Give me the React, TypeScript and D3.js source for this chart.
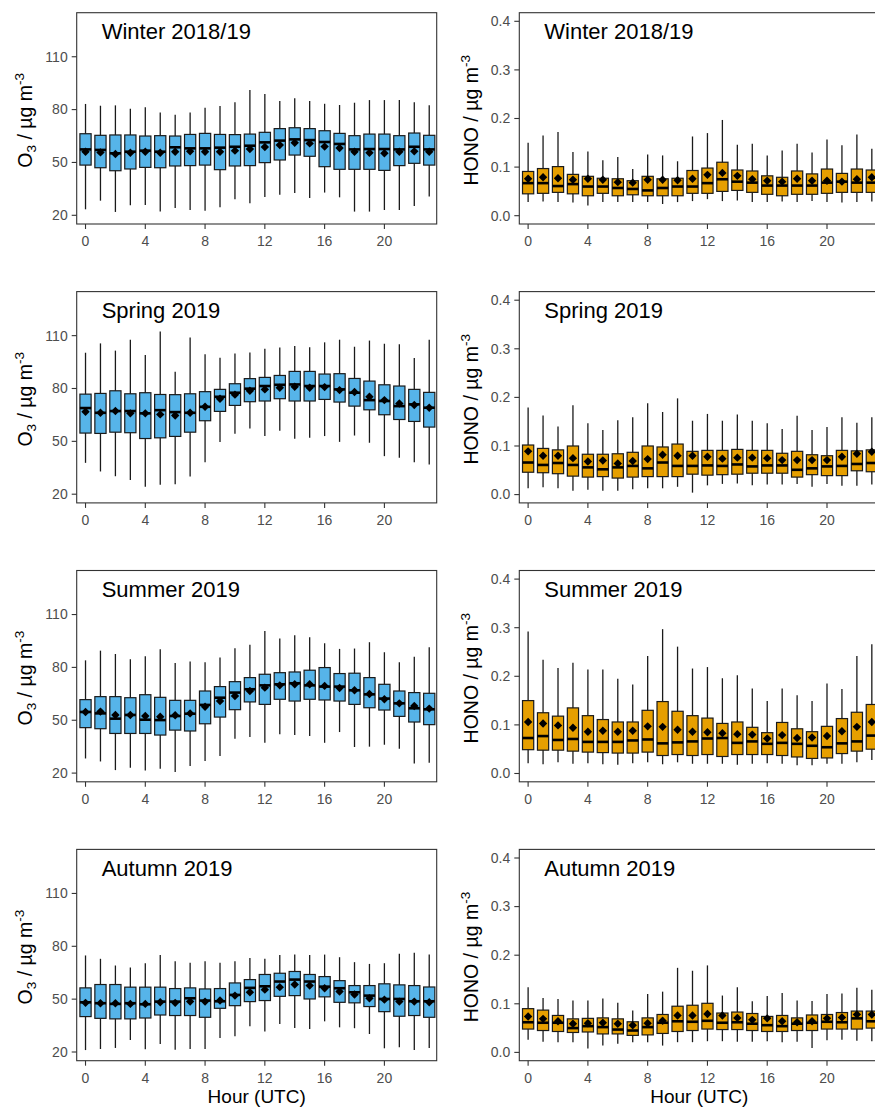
import React from "react";
import * as d3 from "d3";

const HOURS = [0, 1, 2, 3, 4, 5, 6, 7, 8, 9, 10, 11, 12, 13, 14, 15, 16, 17, 18, 19, 20, 21, 22, 23];
const SEASONS = ["Winter 2018/19", "Spring 2019", "Summer 2019", "Autumn 2019"];
const X_TICKS = [0, 4, 8, 12, 16, 20];
const O3_TICKS = [20, 50, 80, 110];
const HONO_TICKS = [0, 0.1, 0.2, 0.3, 0.4];

// ---- O3, Winter 2018/19 ----
const o3WinHi = [83.2, 82.2, 82.4, 80.5, 81.3, 78.4, 77.1, 78.4, 81.1, 82.0, 84.1, 91.1, 88.8, 84.9, 86.4, 84.9, 83.3, 82.6, 83.9, 85.4, 85.4, 85.4, 84.1, 82.4];
const o3WinQ3 = [66.3, 65.4, 65.6, 65.6, 65.0, 65.2, 65.0, 65.9, 66.5, 65.9, 65.8, 66.1, 67.1, 69.2, 69.7, 69.2, 68.0, 66.5, 65.2, 66.1, 66.1, 65.2, 66.7, 65.4];
const o3WinMed = [57.4, 57.1, 55.2, 56.1, 56.7, 56.1, 58.6, 58.0, 58.0, 58.4, 58.9, 59.5, 61.4, 62.4, 63.1, 62.7, 61.6, 60.5, 57.4, 57.6, 57.6, 57.4, 58.9, 57.4];
const o3WinQ1 = [48.5, 47.0, 45.3, 46.3, 47.2, 47.0, 48.0, 48.2, 48.5, 45.9, 48.0, 48.2, 49.9, 51.4, 54.2, 53.5, 47.6, 46.1, 46.1, 46.1, 45.5, 48.2, 49.5, 48.5];
const o3WinLo = [23.4, 28.3, 21.9, 25.7, 25.9, 22.1, 24.2, 23.0, 22.6, 24.5, 29.1, 26.8, 30.4, 31.7, 32.7, 29.8, 32.9, 30.2, 22.1, 22.1, 23.0, 23.0, 25.3, 30.6];
const o3WinMean = [56.1, 55.7, 54.8, 55.5, 56.1, 55.5, 56.1, 56.3, 56.1, 56.1, 56.7, 57.6, 58.8, 59.9, 61.2, 60.8, 59.0, 58.2, 56.1, 55.5, 55.2, 56.1, 56.3, 56.1];

// ---- O3, Spring 2019 ----
const o3SprHi = [100.3, 105.6, 101.5, 107.7, 99.0, 112.3, 89.5, 108.9, 99.4, 97.5, 99.8, 100.5, 102.6, 103.2, 104.1, 103.4, 106.2, 107.7, 103.7, 107.2, 105.4, 105.1, 97.3, 107.7];
const o3SprQ3 = [76.8, 77.2, 78.7, 77.0, 77.6, 76.6, 76.5, 77.0, 78.2, 79.5, 82.7, 85.6, 86.3, 87.4, 89.7, 89.7, 88.2, 88.4, 85.7, 84.2, 82.1, 81.4, 79.5, 77.8];
const o3SprMed = [68.9, 66.2, 67.2, 67.2, 65.9, 67.7, 66.6, 66.2, 69.6, 75.3, 77.6, 79.9, 81.4, 82.1, 82.3, 81.4, 81.4, 79.5, 77.6, 73.4, 72.9, 70.0, 71.0, 69.1];
const o3SprQ1 = [54.7, 54.5, 55.2, 54.9, 51.6, 52.0, 52.8, 55.2, 61.7, 67.0, 70.4, 72.5, 72.9, 74.2, 72.9, 72.9, 73.8, 72.3, 70.0, 67.9, 65.1, 62.4, 61.3, 58.1];
const o3SprLo = [37.8, 32.9, 30.2, 28.0, 24.2, 25.3, 25.7, 30.0, 38.2, 49.6, 54.3, 57.3, 53.0, 56.0, 51.5, 52.0, 53.0, 49.7, 53.3, 49.2, 41.6, 40.7, 38.2, 36.9];
const o3SprMean = [66.8, 66.2, 67.2, 65.9, 65.9, 65.3, 64.7, 66.2, 69.6, 74.2, 76.5, 78.7, 79.5, 80.4, 81.0, 80.4, 80.8, 79.1, 78.0, 75.3, 73.4, 71.5, 70.6, 69.1];

// ---- O3, Summer 2019 ----
const o3SumHi = [84.0, 89.5, 87.6, 84.6, 86.3, 90.3, 82.5, 83.3, 82.9, 85.6, 90.9, 92.9, 100.7, 96.4, 98.3, 97.1, 93.7, 90.5, 90.7, 94.3, 88.6, 82.9, 86.1, 91.4];
const o3SumQ3 = [61.7, 63.4, 63.4, 62.8, 64.5, 63.0, 61.3, 61.3, 66.6, 69.1, 71.9, 74.2, 76.1, 77.0, 77.4, 78.4, 79.9, 76.5, 76.7, 74.2, 70.4, 66.6, 65.7, 65.3];
const o3SumMed = [54.7, 53.9, 50.9, 53.0, 50.3, 50.1, 52.4, 53.7, 58.7, 62.8, 65.7, 67.6, 69.8, 70.4, 71.0, 69.8, 69.1, 69.1, 67.0, 64.7, 62.3, 59.6, 56.8, 56.2];
const o3SumQ1 = [45.8, 45.2, 42.5, 42.5, 42.5, 41.6, 44.4, 43.9, 48.0, 51.8, 56.0, 60.4, 59.0, 61.9, 60.9, 61.9, 61.5, 60.9, 59.0, 57.1, 55.8, 52.2, 49.0, 47.5];
const o3SumLo = [28.3, 26.6, 21.7, 23.0, 21.5, 22.5, 20.6, 24.0, 26.8, 29.7, 39.5, 40.5, 37.2, 42.0, 41.6, 41.0, 37.2, 43.3, 34.8, 35.0, 36.1, 33.8, 25.5, 25.9];
const o3SumMean = [54.7, 54.9, 53.0, 53.0, 52.4, 52.0, 52.8, 53.9, 57.7, 60.9, 63.8, 66.6, 68.5, 69.8, 70.4, 70.4, 69.5, 68.3, 67.0, 64.9, 61.9, 59.6, 58.1, 56.6];

// ---- O3, Autumn 2019 ----
const o3AutHi = [74.8, 72.9, 69.1, 67.9, 70.4, 75.1, 71.5, 70.6, 71.5, 70.6, 71.5, 73.4, 72.9, 75.1, 75.3, 75.1, 75.3, 73.8, 71.0, 70.0, 70.4, 75.7, 76.3, 75.3];
const o3AutQ3 = [56.4, 58.3, 58.3, 56.8, 56.8, 56.8, 56.0, 56.4, 55.8, 56.0, 59.2, 61.1, 64.0, 64.7, 65.7, 64.0, 62.8, 60.5, 57.7, 57.7, 58.7, 58.1, 57.7, 56.9];
const o3AutMed = [48.2, 47.7, 47.3, 47.7, 47.1, 48.6, 48.6, 50.5, 49.2, 48.8, 52.4, 56.4, 57.3, 60.0, 61.1, 60.0, 57.1, 56.2, 53.9, 52.0, 50.1, 50.1, 48.8, 48.8];
const o3AutQ1 = [40.1, 39.1, 38.8, 38.8, 39.3, 41.0, 40.7, 40.7, 39.7, 44.8, 46.3, 48.6, 49.2, 51.6, 52.0, 50.1, 51.3, 48.2, 47.9, 45.8, 42.9, 40.3, 40.7, 39.7];
const o3AutLo = [21.1, 21.7, 22.3, 26.8, 21.5, 24.5, 21.3, 21.7, 21.7, 28.0, 28.9, 34.6, 31.7, 35.9, 33.6, 33.1, 37.4, 34.0, 33.5, 30.2, 22.1, 22.7, 21.1, 22.3];
const o3AutMean = [47.9, 47.7, 47.7, 47.3, 47.3, 48.2, 47.9, 48.6, 48.6, 49.2, 52.0, 53.9, 55.4, 56.8, 58.3, 57.7, 56.2, 54.3, 52.6, 50.5, 49.7, 48.6, 48.6, 48.2];

// ---- HONO, Winter 2018/19 ----
const hoWinHi = [0.150, 0.165, 0.172, 0.131, 0.132, 0.114, 0.121, 0.096, 0.126, 0.124, 0.112, 0.163, 0.170, 0.197, 0.146, 0.148, 0.124, 0.134, 0.148, 0.130, 0.157, 0.145, 0.167, 0.138];
const hoWinQ3 = [0.091, 0.097, 0.101, 0.085, 0.081, 0.077, 0.076, 0.072, 0.081, 0.076, 0.077, 0.093, 0.098, 0.110, 0.094, 0.092, 0.082, 0.079, 0.092, 0.086, 0.096, 0.087, 0.096, 0.094];
const hoWinMed = [0.067, 0.067, 0.061, 0.065, 0.060, 0.060, 0.057, 0.055, 0.052, 0.057, 0.060, 0.060, 0.067, 0.075, 0.070, 0.068, 0.062, 0.062, 0.062, 0.062, 0.068, 0.070, 0.068, 0.068];
const hoWinQ1 = [0.045, 0.046, 0.048, 0.045, 0.041, 0.046, 0.041, 0.043, 0.041, 0.041, 0.041, 0.046, 0.046, 0.050, 0.052, 0.048, 0.044, 0.041, 0.044, 0.044, 0.046, 0.048, 0.048, 0.048];
const hoWinLo = [0.028, 0.029, 0.028, 0.027, 0.021, 0.028, 0.028, 0.028, 0.028, 0.024, 0.028, 0.030, 0.034, 0.030, 0.031, 0.028, 0.028, 0.029, 0.028, 0.030, 0.028, 0.027, 0.028, 0.029];
const hoWinMean = [0.076, 0.079, 0.077, 0.074, 0.076, 0.074, 0.069, 0.068, 0.074, 0.074, 0.073, 0.076, 0.084, 0.088, 0.082, 0.075, 0.072, 0.070, 0.076, 0.072, 0.072, 0.070, 0.075, 0.079];

// ---- HONO, Spring 2019 ----
const hoSprHi = [0.179, 0.163, 0.140, 0.184, 0.147, 0.133, 0.153, 0.159, 0.188, 0.170, 0.198, 0.152, 0.166, 0.152, 0.165, 0.152, 0.147, 0.135, 0.162, 0.133, 0.139, 0.159, 0.148, 0.159];
const hoSprQ3 = [0.102, 0.095, 0.092, 0.100, 0.083, 0.083, 0.084, 0.087, 0.100, 0.098, 0.104, 0.089, 0.091, 0.091, 0.093, 0.091, 0.091, 0.085, 0.089, 0.082, 0.080, 0.091, 0.090, 0.092];
const hoSprMed = [0.066, 0.061, 0.065, 0.061, 0.056, 0.052, 0.056, 0.059, 0.054, 0.066, 0.059, 0.059, 0.060, 0.059, 0.062, 0.058, 0.060, 0.060, 0.051, 0.054, 0.058, 0.059, 0.063, 0.065];
const hoSprQ1 = [0.046, 0.045, 0.043, 0.038, 0.036, 0.037, 0.034, 0.036, 0.037, 0.037, 0.037, 0.042, 0.040, 0.041, 0.042, 0.044, 0.044, 0.044, 0.036, 0.041, 0.039, 0.039, 0.049, 0.047];
const hoSprLo = [0.013, 0.015, 0.013, 0.008, 0.010, 0.008, 0.008, 0.011, 0.013, 0.013, 0.016, 0.004, 0.019, 0.022, 0.023, 0.019, 0.021, 0.021, 0.022, 0.016, 0.022, 0.018, 0.018, 0.021];
const hoSprMean = [0.089, 0.080, 0.080, 0.075, 0.068, 0.070, 0.064, 0.069, 0.073, 0.082, 0.080, 0.080, 0.078, 0.074, 0.076, 0.076, 0.075, 0.071, 0.071, 0.071, 0.071, 0.078, 0.084, 0.088];

// ---- HONO, Summer 2019 ----
const hoSumHi = [0.292, 0.234, 0.217, 0.228, 0.214, 0.214, 0.195, 0.183, 0.242, 0.297, 0.261, 0.216, 0.219, 0.196, 0.202, 0.175, 0.149, 0.175, 0.161, 0.149, 0.185, 0.174, 0.242, 0.266];
const hoSumQ3 = [0.150, 0.125, 0.118, 0.135, 0.119, 0.111, 0.106, 0.106, 0.130, 0.148, 0.128, 0.119, 0.114, 0.103, 0.106, 0.095, 0.084, 0.105, 0.092, 0.086, 0.097, 0.113, 0.126, 0.142];
const hoSumMed = [0.073, 0.077, 0.069, 0.071, 0.065, 0.065, 0.065, 0.068, 0.070, 0.062, 0.064, 0.066, 0.072, 0.073, 0.063, 0.066, 0.061, 0.063, 0.061, 0.057, 0.054, 0.062, 0.066, 0.078];
const hoSumQ1 = [0.049, 0.048, 0.048, 0.046, 0.044, 0.043, 0.042, 0.042, 0.044, 0.037, 0.039, 0.037, 0.039, 0.035, 0.039, 0.039, 0.039, 0.037, 0.034, 0.031, 0.032, 0.041, 0.046, 0.050];
const hoSumLo = [0.021, 0.019, 0.023, 0.020, 0.021, 0.019, 0.018, 0.021, 0.023, 0.019, 0.023, 0.020, 0.020, 0.020, 0.018, 0.020, 0.021, 0.020, 0.017, 0.017, 0.020, 0.020, 0.023, 0.028];
const hoSumMean = [0.106, 0.103, 0.099, 0.094, 0.086, 0.088, 0.086, 0.088, 0.097, 0.096, 0.090, 0.086, 0.085, 0.083, 0.081, 0.080, 0.072, 0.079, 0.073, 0.074, 0.077, 0.087, 0.096, 0.106];

// ---- HONO, Autumn 2019 ----
const hoAutHi = [0.134, 0.112, 0.110, 0.107, 0.107, 0.111, 0.102, 0.086, 0.120, 0.125, 0.174, 0.168, 0.179, 0.117, 0.134, 0.105, 0.116, 0.122, 0.107, 0.106, 0.120, 0.121, 0.133, 0.129];
const hoAutQ3 = [0.090, 0.087, 0.076, 0.069, 0.070, 0.071, 0.069, 0.063, 0.071, 0.078, 0.095, 0.097, 0.101, 0.081, 0.083, 0.080, 0.074, 0.076, 0.071, 0.077, 0.078, 0.082, 0.085, 0.085];
const hoAutMed = [0.062, 0.061, 0.061, 0.050, 0.054, 0.052, 0.047, 0.045, 0.052, 0.061, 0.064, 0.063, 0.065, 0.061, 0.062, 0.059, 0.056, 0.054, 0.059, 0.061, 0.063, 0.062, 0.070, 0.064];
const hoAutQ1 = [0.048, 0.045, 0.043, 0.041, 0.042, 0.038, 0.038, 0.035, 0.036, 0.039, 0.043, 0.045, 0.048, 0.047, 0.047, 0.045, 0.043, 0.043, 0.045, 0.045, 0.048, 0.048, 0.048, 0.050];
const hoAutLo = [0.026, 0.022, 0.021, 0.021, 0.008, 0.014, 0.018, 0.021, 0.021, 0.014, 0.021, 0.021, 0.023, 0.023, 0.022, 0.022, 0.023, 0.021, 0.022, 0.009, 0.025, 0.026, 0.024, 0.023];
const hoAutMean = [0.074, 0.069, 0.064, 0.059, 0.060, 0.061, 0.059, 0.056, 0.060, 0.065, 0.076, 0.076, 0.079, 0.076, 0.071, 0.067, 0.070, 0.064, 0.062, 0.064, 0.070, 0.072, 0.078, 0.078];

type Stats = { lo: number[]; q1: number[]; med: number[]; q3: number[]; hi: number[]; mean: number[] };

const O3_PANELS: Stats[] = [
  { lo: o3WinLo, q1: o3WinQ1, med: o3WinMed, q3: o3WinQ3, hi: o3WinHi, mean: o3WinMean },
  { lo: o3SprLo, q1: o3SprQ1, med: o3SprMed, q3: o3SprQ3, hi: o3SprHi, mean: o3SprMean },
  { lo: o3SumLo, q1: o3SumQ1, med: o3SumMed, q3: o3SumQ3, hi: o3SumHi, mean: o3SumMean },
  { lo: o3AutLo, q1: o3AutQ1, med: o3AutMed, q3: o3AutQ3, hi: o3AutHi, mean: o3AutMean },
];
const HONO_PANELS: Stats[] = [
  { lo: hoWinLo, q1: hoWinQ1, med: hoWinMed, q3: hoWinQ3, hi: hoWinHi, mean: hoWinMean },
  { lo: hoSprLo, q1: hoSprQ1, med: hoSprMed, q3: hoSprQ3, hi: hoSprHi, mean: hoSprMean },
  { lo: hoSumLo, q1: hoSumQ1, med: hoSumMed, q3: hoSumQ3, hi: hoSumHi, mean: hoSumMean },
  { lo: hoAutLo, q1: hoAutQ1, med: hoAutMed, q3: hoAutQ3, hi: hoAutHi, mean: hoAutMean },
];

const W = 875;
const H = 1111;
const PANEL_W = 360;
const PANEL_H = 211.3;
const LEFT_X = 76.7;
const RIGHT_X = 519.3;
const TOP0 = 12.7;
const ROW_STEP = 278.9;
const FONT = "'Liberation Sans', Arial, Helvetica, sans-serif";
const TICK_COLOR = "#4D4D4D";

const xScale = d3.scaleLinear().domain([-0.59, 23.5]).range([0, PANEL_W]);
const yO3 = d3.scaleLinear().domain([15.06, 135]).range([PANEL_H, 0]);
const yHono = d3.scaleLinear().domain([-0.0171, 0.4177]).range([PANEL_H, 0]);

type PanelProps = {
  px: number;
  py: number;
  stats: Stats;
  y: d3.ScaleLinear<number, number>;
  yTicks: number[];
  fmt: (v: number) => string;
  fill: string;
  title: string;
  species: string;
  showXTitle: boolean;
};

function Panel({ px, py, stats, y, yTicks, fmt, fill, title, species, showXTitle }: PanelProps) {
  const halfW = (xScale(0.375) - xScale(0));
  const r = 4.2;
  return (
    <g transform={`translate(${px},${py})`}>
      {/* whiskers */}
      {HOURS.map((h, i) => (
        <line key={`w${i}`} x1={xScale(h)} x2={xScale(h)} y1={y(stats.hi[i])} y2={y(stats.lo[i])}
          stroke="#1a1a1a" strokeWidth={1.3} />
      ))}
      {/* boxes */}
      {HOURS.map((h, i) => (
        <rect key={`b${i}`} x={xScale(h) - halfW} width={halfW * 2}
          y={y(stats.q3[i])} height={y(stats.q1[i]) - y(stats.q3[i])}
          fill={fill} stroke="#1a1a1a" strokeWidth={1.2} />
      ))}
      {/* medians */}
      {HOURS.map((h, i) => (
        <line key={`m${i}`} x1={xScale(h) - halfW} x2={xScale(h) + halfW}
          y1={y(stats.med[i])} y2={y(stats.med[i])} stroke="#000" strokeWidth={2.6} />
      ))}
      {/* means */}
      {HOURS.map((h, i) => {
        const cx = xScale(h);
        const cy = y(stats.mean[i]);
        return (
          <path key={`d${i}`} d={`M${cx},${cy - r}L${cx + r},${cy}L${cx},${cy + r}L${cx - r},${cy}Z`} fill="#000" />
        );
      })}
      {/* panel border */}
      <rect x={0} y={0} width={PANEL_W} height={PANEL_H} fill="none" stroke="#333333" strokeWidth={1.1} />
      {/* title */}
      <text x={25} y={26.5} fontFamily={FONT} fontSize={22} fill="#000">{title}</text>
      {/* y ticks */}
      {yTicks.map((t) => (
        <g key={`yt${t}`}>
          <line x1={-5} x2={0} y1={y(t)} y2={y(t)} stroke="#333333" strokeWidth={1.1} />
          <text x={-9} y={y(t)} dy="0.35em" textAnchor="end" fontFamily={FONT} fontSize={14} fill={TICK_COLOR}>
            {fmt(t)}
          </text>
        </g>
      ))}
      {/* x ticks */}
      {X_TICKS.map((t) => (
        <g key={`xt${t}`}>
          <line x1={xScale(t)} x2={xScale(t)} y1={PANEL_H} y2={PANEL_H + 5} stroke="#333333" strokeWidth={1.1} />
          <text x={xScale(t)} y={PANEL_H + 22} textAnchor="middle" fontFamily={FONT} fontSize={14} fill={TICK_COLOR}>
            {t}
          </text>
        </g>
      ))}
      {/* y title */}
      <text transform={`translate(${species === "O3" ? -44.4 : -41},${PANEL_H / 2 + 2}) rotate(-90)`}
        textAnchor="middle" fontFamily={FONT} fontSize={19.5} fill="#000">
        {species === "O3" ? (
          <>
            <tspan>O</tspan>
            <tspan fontSize={13.5} dy={4}>3</tspan>
            <tspan dy={-4}> / µg m</tspan>
            <tspan fontSize={13.5} dy={-8}>-3</tspan>
          </>
        ) : (
          <>
            <tspan>HONO / µg m</tspan>
            <tspan fontSize={13.5} dy={-8}>-3</tspan>
          </>
        )}
      </text>
      {showXTitle && (
        <text x={PANEL_W / 2} y={PANEL_H + 42} textAnchor="middle" fontFamily={FONT} fontSize={19} fill="#000">
          Hour (UTC)
        </text>
      )}
    </g>
  );
}

export default function App() {
  return (
    <svg width={W} height={H} viewBox={`0 0 ${W} ${H}`}
      style={{ position: "absolute", left: 0, top: 0, background: "#fff", display: "block" }}>
      <rect x={0} y={0} width={W} height={H} fill="#fff" />
      {SEASONS.map((s, row) => (
        <g key={s}>
          <Panel px={LEFT_X} py={TOP0 + row * ROW_STEP} stats={O3_PANELS[row]} y={yO3} yTicks={O3_TICKS}
            fmt={(v) => d3.format("d")(v)} fill="#56B4E9" title={s} species="O3" showXTitle={row === 3} />
          <Panel px={RIGHT_X} py={TOP0 + row * ROW_STEP} stats={HONO_PANELS[row]} y={yHono} yTicks={HONO_TICKS}
            fmt={(v) => d3.format(".1f")(v)} fill="#E69F00" title={s} species="HONO" showXTitle={row === 3} />
        </g>
      ))}
    </svg>
  );
}
